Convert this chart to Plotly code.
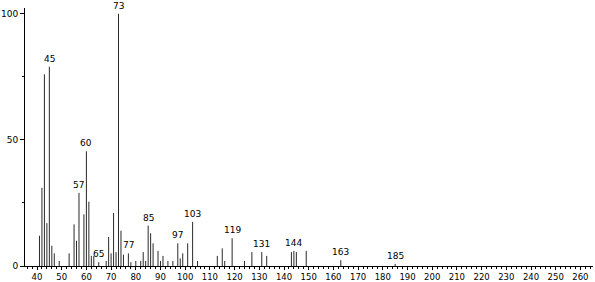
import plotly.graph_objects as go

# m/z values and relative intensities
mz = [41, 42, 43, 44, 45, 46, 47, 49, 53, 55, 56, 57, 59, 60, 61, 62, 63, 65,
      68, 69, 70, 71, 72, 73, 74, 75, 77, 78, 80, 82, 83, 84, 85, 86, 87, 89,
      90, 91, 93, 95, 97, 98, 99, 101, 103, 105, 113, 115, 116, 119, 124, 127,
      131, 133, 143, 144, 145, 149, 163, 185]
intensity = [12, 31, 76, 17, 79, 8, 5, 2, 5, 16.5, 10, 29, 20.5, 45.5, 25.5, 4, 4, 1.5,
             2, 11.5, 5, 21, 5.5, 100, 14, 4.5, 5, 1.5, 2, 2, 5.5, 2, 16, 13, 9, 6,
             2, 4, 2, 2, 9, 3, 5, 9, 17.5, 2, 4, 7, 2, 11, 2, 5.5,
             5.5, 4, 5.5, 6, 5.5, 6, 2.3, 0.8]
labelled = [45, 57, 60, 65, 73, 77, 85, 97, 103, 119, 131, 144, 163, 185]
x_ticks = list(range(40, 261, 10))
y_ticks = [0, 50, 100]

xs, ys = [], []
for m, v in zip(mz, intensity):
    xs += [m, m, None]
    ys += [0, v, None]

fig = go.Figure()
fig.add_trace(go.Scatter(x=xs, y=ys, mode="lines",
                         line=dict(color="#2a2a2a", width=1),
                         hoverinfo="skip", showlegend=False))

lookup = dict(zip(mz, intensity))
for m in labelled:
    fig.add_annotation(x=m, y=lookup[m], text=str(m), showarrow=False,
                       yanchor="bottom", yshift=1,
                       font=dict(family="DejaVu Sans", size=9, color="black"))

fig.update_layout(
    width=595, height=282,
    margin=dict(l=25, r=2, t=8, b=16),
    paper_bgcolor="white", plot_bgcolor="white",
    font=dict(family="DejaVu Sans", size=9, color="black"),
    xaxis=dict(range=[35.14, 265.1], tickvals=x_ticks, ticktext=[str(t) for t in x_ticks],
               ticks="outside", ticklen=3, tickcolor="black", showline=True,
               linecolor="black", linewidth=1, showgrid=False, zeroline=False,
               automargin=False, ticklabelstandoff=0,
               minor=dict(dtick=2, tick0=0, ticks="outside", ticklen=2, tickcolor="black"),
               tickfont=dict(size=8.5)),
    yaxis=dict(range=[0, 102.3], tickvals=y_ticks, ticktext=[str(t) for t in y_ticks],
               ticks="outside", ticklen=4, tickcolor="black", showline=True,
               linecolor="black", linewidth=1, showgrid=False, zeroline=False,
               automargin=False,
               minor=dict(dtick=25, tick0=0, ticks="outside", ticklen=2, tickcolor="black"),
               tickfont=dict(size=9)),
)

fig.write_html("out.html")
